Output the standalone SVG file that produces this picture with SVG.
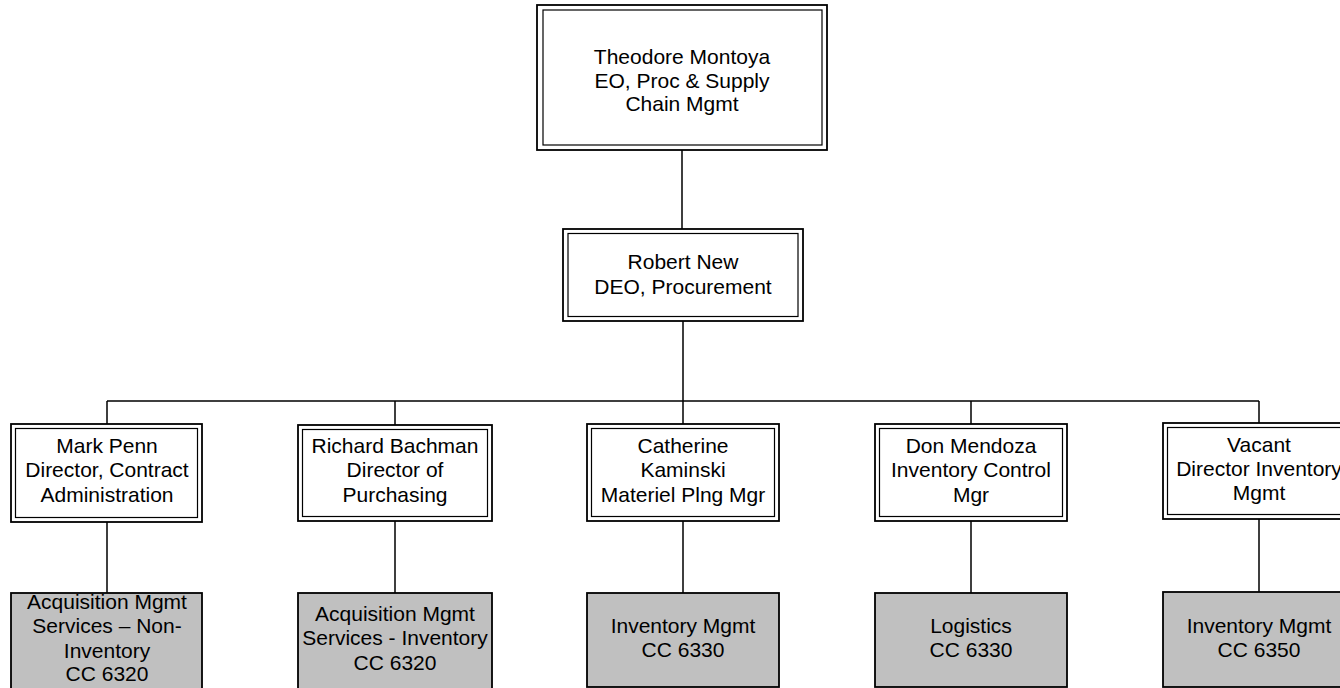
<svg xmlns="http://www.w3.org/2000/svg" width="1340" height="688" viewBox="0 0 1340 688">
<style>
.o{fill:#fff;stroke:#000;stroke-width:1.8}
.i{fill:none;stroke:#000;stroke-width:1.2}
.g{fill:#c0c0c0;stroke:#000;stroke-width:1.8}
.c{fill:none;stroke:#000;stroke-width:1.5}
text{font-family:"Liberation Sans",Arial,sans-serif;font-size:21px;fill:#000;text-anchor:middle}
</style>
<rect width="1340" height="688" fill="#fff"/>
<g id="connectors">
<path class="c" d="M682 150V229M683 321V401M107 401H1259M107 401V424M395 401V425M683 401V424M971 401V424M1259 401V423M107 522V593M395 521V593M683 521V593M971 521V593M1259 519V592"/>
</g>
<g id="n-theodore">
<rect class="o" x="537" y="5" width="290" height="145"/>
<rect class="i" x="543" y="10" width="279" height="135"/>
<text x="682" y="64">Theodore Montoya</text>
<text x="682" y="88">EO, Proc &amp; Supply</text>
<text x="682" y="111">Chain Mgmt</text>
</g>
<g id="n-robert">
<rect class="o" x="563" y="229" width="240" height="92"/>
<rect class="i" x="568" y="233.5" width="230" height="83"/>
<text x="683" y="269">Robert New</text>
<text x="683" y="294">DEO, Procurement</text>
</g>
<g id="n-mark">
<rect class="o" x="11" y="424" width="191" height="98"/>
<rect class="i" x="15.5" y="428.5" width="182" height="89"/>
<text x="107" y="453">Mark Penn</text>
<text x="107" y="477">Director, Contract</text>
<text x="107" y="502">Administration</text>
</g>
<g id="n-richard">
<rect class="o" x="298" y="425" width="194" height="96"/>
<rect class="i" x="302.5" y="429.5" width="185" height="87"/>
<text x="395" y="453">Richard Bachman</text>
<text x="395" y="477">Director of</text>
<text x="395" y="502">Purchasing</text>
</g>
<g id="n-catherine">
<rect class="o" x="587" y="424" width="192" height="97"/>
<rect class="i" x="591.5" y="428.5" width="183" height="88"/>
<text x="683" y="453">Catherine</text>
<text x="683" y="477">Kaminski</text>
<text x="683" y="502">Materiel Plng Mgr</text>
</g>
<g id="n-don">
<rect class="o" x="875" y="424" width="192" height="97"/>
<rect class="i" x="879.5" y="428.5" width="183" height="88"/>
<text x="971" y="453">Don Mendoza</text>
<text x="971" y="477">Inventory Control</text>
<text x="971" y="502">Mgr</text>
</g>
<g id="n-vacant">
<rect class="o" x="1163" y="423" width="192" height="96"/>
<rect class="i" x="1167.5" y="427.5" width="183" height="87"/>
<text x="1259" y="452">Vacant</text>
<text x="1259" y="476">Director Inventory</text>
<text x="1259" y="500">Mgmt</text>
</g>
<g id="n-acq-noninv">
<rect class="g" x="11" y="593" width="191" height="100"/>
<text x="107" y="609">Acquisition Mgmt</text>
<text x="107" y="633">Services – Non-</text>
<text x="107" y="658">Inventory</text>
<text x="107" y="681">CC 6320</text>
</g>
<g id="n-acq-inv">
<rect class="g" x="298" y="593" width="194" height="100"/>
<text x="395" y="621">Acquisition Mgmt</text>
<text x="395" y="645">Services - Inventory</text>
<text x="395" y="670">CC 6320</text>
</g>
<g id="n-inv-6330">
<rect class="g" x="587" y="593" width="192" height="94"/>
<text x="683" y="633">Inventory Mgmt</text>
<text x="683" y="657">CC 6330</text>
</g>
<g id="n-logistics">
<rect class="g" x="875" y="593" width="192" height="94"/>
<text x="971" y="633">Logistics</text>
<text x="971" y="657">CC 6330</text>
</g>
<g id="n-inv-6350">
<rect class="g" x="1163" y="592" width="192" height="95"/>
<text x="1259" y="633">Inventory Mgmt</text>
<text x="1259" y="657">CC 6350</text>
</g>
</svg>
